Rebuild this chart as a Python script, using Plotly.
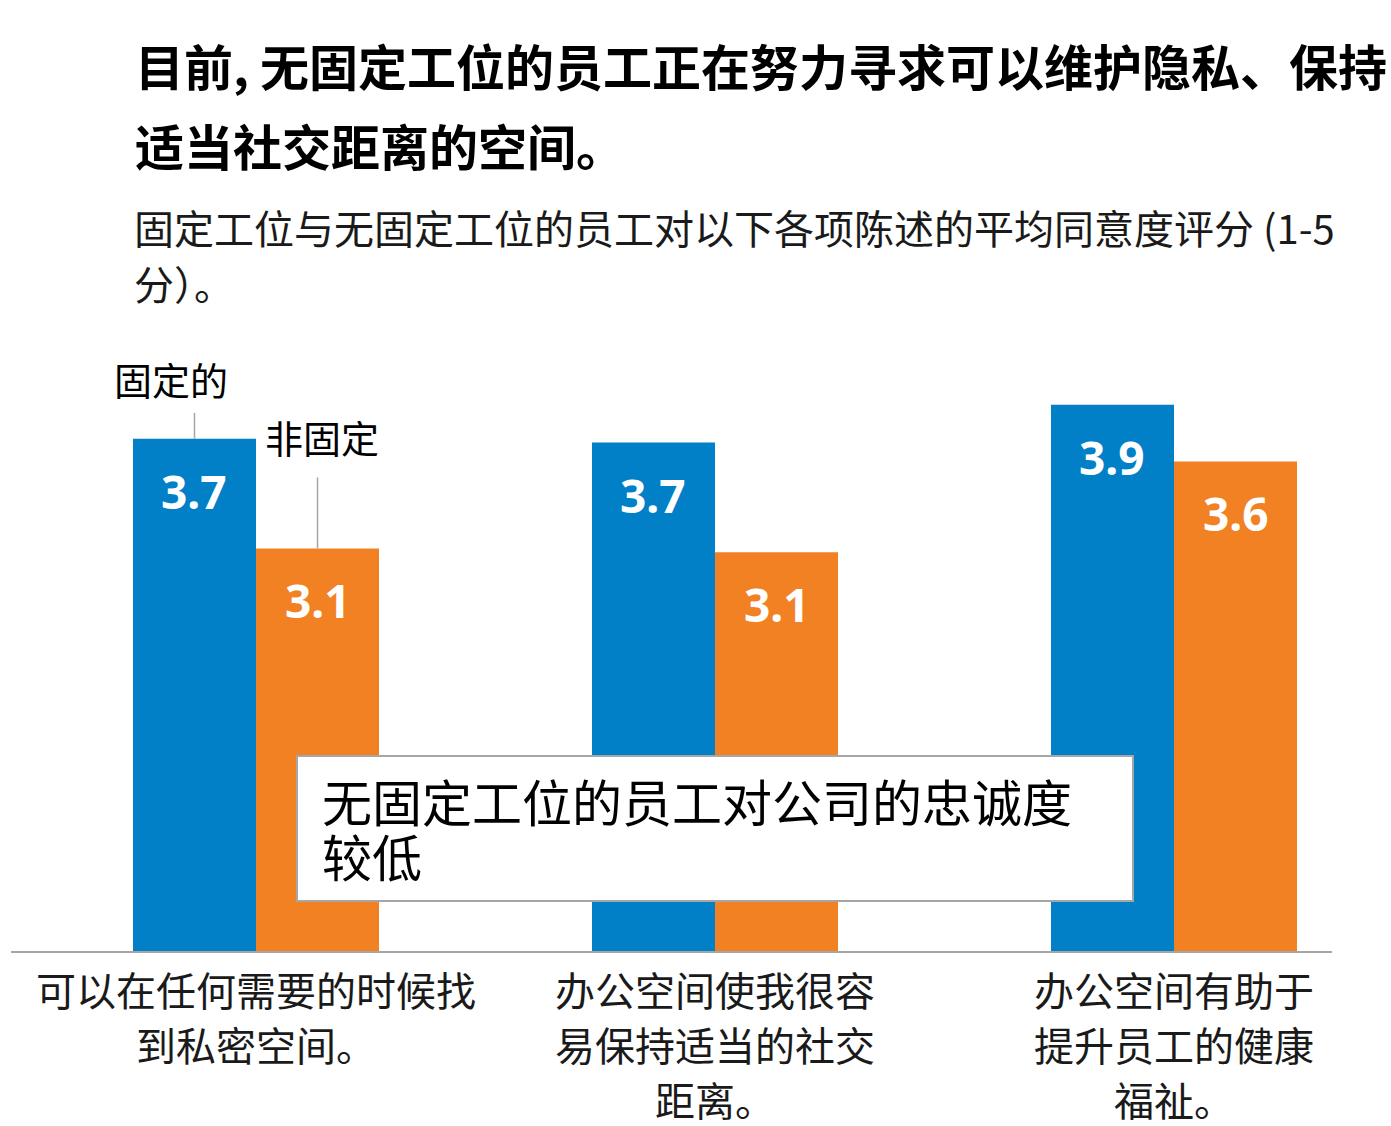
import plotly.graph_objects as go

W, H = 1391, 1126
# plot area edges in page pixels
PX_L, PX_R = 11, 1332
PX_TOP, PX_BASE = 384, 951

BLUE = "#0180c7"
ORANGE = "#f18122"
GREY = "#a6a6a6"
CJK = "Noto Sans CJK SC"

categories = [0, 1, 2]
category_lines = [
    ["可以在任何需要的时候找", "到私密空间。"],
    ["办公空间使我很容", "易保持适当的社交", "距离。"],
    ["办公空间有助于", "提升员工的健康", "福祉。"],
]
fixed_scores = [3.71, 3.69, 3.89]
flex_scores = [3.13, 3.11, 3.59]
series_names = ["固定的", "非固定"]

title_lines = ["目前, 无固定工位的员工正在努力寻求可以维护隐私、保持", "适当社交距离的空间。"]
subtitle_lines = ["固定工位与无固定工位的员工对以下各项陈述的平均同意度评分 (1-5", "分）。"]
callout_lines = ["无固定工位的员工对公司的忠诚度", "较低"]

BARGAP = 0.464
HALF = (1 - BARGAP) / 4  # offset of each bar centre from the category


def px_x(px):
    return (px - PX_L) / (PX_R - PX_L)


def px_y(py):
    return (PX_BASE - py) / (PX_BASE - PX_TOP)


fig = go.Figure()
fig.add_trace(go.Bar(x=categories, y=fixed_scores, name=series_names[0],
                     marker={"color": BLUE, "line": {"width": 0}}))
fig.add_trace(go.Bar(x=categories, y=flex_scores, name=series_names[1],
                     marker={"color": ORANGE, "line": {"width": 0}}))

annotations = []
shapes = []

# title + subtitle
for k, line in enumerate(title_lines):
    annotations.append(dict(
        text=f"<b>{line}</b>", xref="paper", yref="paper",
        x=px_x(133), y=px_y(64 + 80 * k), xanchor="left", yanchor="middle",
        showarrow=False, font={"family": CJK, "size": 49, "color": "#000000"},
    ))
for k, line in enumerate(subtitle_lines):
    annotations.append(dict(
        text=line, xref="paper", yref="paper",
        x=px_x(132), y=px_y(227 + 56 * k), xanchor="left", yanchor="middle",
        showarrow=False, font={"family": CJK, "size": 40, "color": "#1a1a1a"},
    ))

# value labels inside bars
for i, (a, b) in enumerate(zip(fixed_scores, flex_scores)):
    for xv, v in ((i - HALF, a), (i + HALF, b)):
        annotations.append(dict(
            text=f"<b>{v:.1f}</b>", x=xv, y=v, xref="x", yref="y",
            yshift=-52, yanchor="middle", showarrow=False,
            font={"family": "Noto Sans", "size": 46, "color": "#ffffff"},
        ))

# series labels with leader lines on the first group
annotations.append(dict(
    text=series_names[0], x=-HALF, y=fixed_scores[0], xref="x", yref="y",
    xshift=-23, yshift=60, yanchor="middle", showarrow=False,
    font={"family": CJK, "size": 38, "color": "#000000"},
))
annotations.append(dict(
    text=series_names[1], x=HALF, y=flex_scores[0], xref="x", yref="y",
    xshift=4, yshift=112, yanchor="middle", showarrow=False,
    font={"family": CJK, "size": 38, "color": "#000000"},
))
shapes.append(dict(type="line", xref="x", yref="y", ysizemode="pixel",
                   yanchor=fixed_scores[0], x0=-HALF, x1=-HALF, y0=0, y1=26,
                   line={"color": GREY, "width": 1.5}))
shapes.append(dict(type="line", xref="x", yref="y", ysizemode="pixel",
                   yanchor=flex_scores[0], x0=HALF, x1=HALF, y0=0, y1=71,
                   line={"color": GREY, "width": 1.5}))

# callout box over the bars
shapes.append(dict(type="rect", xref="paper", yref="paper", layer="above",
                   x0=px_x(297), x1=px_x(1133), y0=px_y(901), y1=px_y(756),
                   fillcolor="#ffffff", line={"color": GREY, "width": 2}))
for k, line in enumerate(callout_lines):
    annotations.append(dict(
        text=line, xref="paper", yref="paper",
        x=px_x(320), y=px_y(800 + 55 * k), xanchor="left", yanchor="middle",
        showarrow=False, font={"family": CJK, "size": 50, "color": "#000000"},
    ))

# category labels under the axis
for i, lines in enumerate(category_lines):
    for k, line in enumerate(lines):
        annotations.append(dict(
            text=line, x=categories[i], xref="x", yref="paper",
            y=px_y(989 + 55 * k), yanchor="middle", showarrow=False,
            font={"family": CJK, "size": 40, "color": "#1a1a1a"},
        ))

fig.update_layout(
    width=W, height=H,
    margin={"l": PX_L, "r": W - PX_R, "t": PX_TOP, "b": H - PX_BASE, "pad": 0},
    paper_bgcolor="#ffffff", plot_bgcolor="#ffffff",
    barmode="group", bargap=BARGAP, bargroupgap=0,
    showlegend=False,
    annotations=annotations, shapes=shapes,
    xaxis={"range": [(PX_L - 256) / 459, (PX_R - 256) / 459], "showgrid": False,
           "zeroline": False, "showticklabels": False, "ticks": "",
           "showline": True, "linecolor": GREY, "linewidth": 2},
    yaxis={"range": [1, 4], "visible": False},
    font={"family": CJK},
)

fig.write_html("out.html", config={"displayModeBar": False},
               post_script="document.body.style.margin='0';")
